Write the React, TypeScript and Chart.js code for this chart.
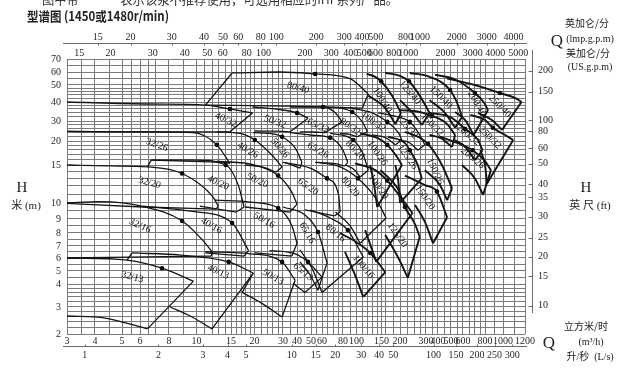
import React, { useEffect, useRef } from 'react';
import { Chart, Scale, registerables } from 'chart.js';

type Pt = [number, number];
// [model, max-impeller curve (Q m³/h, H m), min-impeller curve, index of duty dot, label Q, label H, label angle]
type Tile = [string, Pt[], Pt[], number, number, number, number];

// ---- axis calibration of the printed sheet (value, fraction along axis) ----
const qAnchors: Pt[] = [[3, 0], [4, 0.0611], [5, 0.1201], [6, 0.1594], [8, 0.2227], [10, 0.2828], [15, 0.3581], [20, 0.4094], [30, 0.4716], [40, 0.5022], [50, 0.5328], [60, 0.5568], [80, 0.6026], [100, 0.6321], [150, 0.6867], [200, 0.7271], [300, 0.7838], [400, 0.81], [500, 0.8384], [600, 0.8646], [800, 0.9127], [1000, 0.952], [1200, 1]];
const hAnchors: Pt[] = [[2, 0], [3, 0.0982], [4, 0.1818], [5, 0.2291], [6, 0.2764], [7, 0.32], [8, 0.3673], [9, 0.4182], [10, 0.4764], [15, 0.6145], [20, 0.7018], [30, 0.7745], [40, 0.8436], [50, 0.9055], [60, 0.9527], [70, 1]];

// ---- ticks ----
const qGrid = [3, 3.5, 4, 4.5, 5, 5.5, 6, 6.5, 7, 8, 9, 10, 11, 12, 13, 14, 15, 16, 17, 18, 19, 20, 22, 24, 26, 28, 30, 35, 40, 45, 50, 55, 60, 65, 70, 75, 80, 90, 100, 110, 120, 130, 140, 150, 160, 180, 200, 225, 250, 275, 300, 350, 400, 450, 500, 550, 600, 650, 700, 750, 800, 900, 1000, 1100, 1200];
const qTicks = [3, 4, 5, 6, 8, 10, 15, 20, 30, 40, 50, 60, 80, 100, 150, 200, 300, 400, 500, 600, 800, 1000, 1200];
const lsTicks = [1, 2, 3, 4, 5, 10, 15, 20, 30, 40, 50, 100, 150, 200, 250, 300];
const usTicks = [15, 20, 30, 40, 50, 60, 80, 100, 200, 300, 400, 500, 600, 800, 1000, 2000, 3000, 4000, 5000];
const impTicks = [15, 20, 30, 40, 50, 60, 80, 100, 200, 300, 400, 500, 800, 1000, 2000, 3000, 4000];
const hGrid = [2, 2.2, 2.4, 2.6, 2.8, 3, 3.2, 3.4, 3.6, 3.8, 4, 4.5, 5, 5.5, 6, 6.5, 7, 7.5, 8, 8.5, 9, 9.5, 10, 11, 12, 13, 14, 15, 16, 17, 18, 19, 20, 22, 24, 26, 28, 30, 32, 34, 36, 38, 40, 42, 44, 46, 48, 50, 55, 60, 65, 70];
const hTicks = [2, 3, 4, 5, 6, 7, 8, 9, 10, 15, 20, 30, 40, 50, 60, 70];
const ftTicks = [200, 150, 100, 80, 60, 50, 40, 35, 30, 25, 20, 15, 10];

// ---- pump tiles ----
const row13: Tile[] = [
  ['32/13', [[3, 6], [5.26, 5.83], [7.47, 5.2], [9.75, 4.2]], [[3, 2.62], [4.35, 2.54], [6.46, 2.16]], 2, 5.55, 4.5, 15],
  ['40/13', [[5.53, 6.4], [8.8, 6.23], [14.6, 5.68], [19.7, 4.83]], [[8.07, 3.0], [9.5, 2.62], [12, 2.16]], 2, 12.9, 4.92, 25],
  ['50/13', [[11.1, 6.5], [19, 6.33], [29.6, 5.68], [38.5, 4.27]], [[17.2, 3.6], [22, 3.16], [29.6, 2.58]], 2, 26, 4.5, 30],
  ['65/13', [[24.8, 6.6], [38.5, 6.33], [47.7, 5.68], [60, 4.5]], [[36.9, 4.07], [41.3, 3.8], [45.4, 3.6]], 2, 44, 4.92, 40],
];
const row16: Tile[] = [
  ['32/16', [[3, 10], [4.17, 10.15], [6.18, 9.78], [8.9, 8.85], [10.8, 7.4], [12, 6.5]], [[3, 6], [5.42, 6.07], [11.9, 6.15]], 3, 6, 8.5, 25],
  ['40/16', [[6.18, 9.8], [9.5, 9.48], [15.2, 8.7], [18.6, 6.6]], [[11.1, 6.4], [17.6, 6.15]], 2, 11.9, 8.5, 30],
  ['50/16', [[12.4, 10.3], [19, 10.1], [28, 9.68], [36, 8.5], [40, 7.2]], [[20.1, 6.4], [36, 6.15]], 2, 22.9, 8.9, 30],
  ['65/16', [[30, 9.74], [45.4, 9.24], [56.1, 8.07], [64.3, 5.6]], [[41.9, 5.68], [49.3, 4.67], [56.1, 3.7]], 2, 47, 8, 60],
  ['80/16', [[49.3, 9.55], [67.1, 9.06], [86.6, 8.2], [111.7, 6.07]], [[41.9, 6.67], [50.8, 5.2], [60, 3.6]], 2, 72.2, 8, 40],
  ['100/16', [[76.9, 8], [102.5, 7.2], [125, 6.4], [159, 4.9]], [[82.7, 6.5], [97.5, 4.67], [111.7, 3.4]], 2, 111.7, 5.3, 50],
];
const row20: Tile[] = [
  ['32/20', [[3, 15], [4.55, 14.85], [6.46, 14.7], [8.9, 13.7], [12.1, 10.7], [12.9, 9.8]], [[3, 9.97], [6.18, 9.74], [12.6, 9.61]], 3, 6.6, 12.4, 15],
  ['40/20', [[6.7, 15.9], [9.9, 15.9], [14.1, 15], [16.4, 12.1], [17.6, 9.74]], [[10.4, 9.8], [16, 9.42]], 2, 12.9, 12.4, 25],
  ['50/20', [[12.7, 15.7], [20.1, 15], [28, 13.4], [36, 11.2], [40, 9.93]], [[17.8, 9.74], [34.6, 9.42]], 2, 20.8, 12.7, 25],
  ['65/20', [[30, 15.5], [49.3, 14.5], [64.3, 13], [75.3, 10.9], [76.9, 9.42]], [[45.4, 9.55], [71, 9.18]], 2, 47.7, 11.9, 35],
  ['80/20', [[56.1, 15.5], [76.9, 14.7], [102.5, 13], [135.5, 10.6], [161, 9.06]], [[72.2, 9.42], [90, 8.5], [106, 7.2]], 2, 90, 11.9, 50],
  ['100/20', [[97.5, 15.3], [135.5, 14.2], [164, 12.7], [209.5, 10.3], [243, 9.36]], [[115, 8.2], [125, 7.1], [137.8, 5.68]], 2, 142.3, 11.9, 55],
  ['125/20', [[147.4, 14.2], [195, 11.5], [216, 9.74], [253, 8.6], [272, 7.7]], [[159, 7.83], [195, 6], [226, 4.45]], 2, 192, 7.83, 55],
  ['150/20', [[216, 13.4], [295, 12.1], [390, 11.3], [468, 9.1]], [[253, 9.87], [295, 8.78], [355, 7.2]], 2, 295, 10.6, 55],
];
const row26: Tile[] = [
  ['32/26', [[3, 24.3], [6.6, 24.1], [9.75, 23.7], [12.7, 19.1], [14.8, 15.3]], [[6.7, 15.9], [14.2, 15.5]], 3, 7.1, 19.1, 20],
  ['40/26', [[12.7, 24.1], [16.8, 23.3], [20.1, 20.4], [25.6, 16.9], [29.6, 14.7]], [[17.8, 15], [23, 14.6], [27.1, 13.9]], 2, 18.4, 17.9, 30],
  ['50/26', [[19.7, 23.7], [24.8, 23.3], [29.6, 21.8], [38.5, 18.4], [43.3, 15.5]], [[31.3, 15.5], [41.9, 14.5]], 2, 28.7, 18.4, 50],
  ['65/26', [[34.6, 23.7], [49.3, 22.6], [67.1, 21.4], [80, 17.9], [86.6, 15.5]], [[53.5, 15.5], [70, 15.3], [82.7, 14.85]], 2, 56.1, 17.9, 30],
  ['80/26', [[67.1, 23.3], [82.7, 22.2], [95, 20.4], [110, 17.5], [121, 14.2]], [[82.7, 15], [96, 14.3], [106, 13.2]], 2, 97.5, 17.9, 45],
  ['100/26', [[106, 23.3], [142.3, 21.1], [164, 19.1], [189, 16.7], [206, 15]], [[125, 15], [133, 12.1], [140, 9.74]], 2, 140, 17.3, 55],
  ['125/26', [[166, 21.8], [216, 19.5], [233, 17.9], [264, 15], [281, 13]], [[186, 15], [195, 12.5], [200, 10]], 2, 225, 16.5, 55],
  ['150/26', [[216, 24.1], [272, 21.4], [315, 19.3], [428, 15], [508, 11.7]], [[295, 14.2], [414, 12.1], [468, 10.3]], 2, 373, 14, 65],
  ['200/26', [[414, 21.8], [556, 19.5], [680, 17.9], [792, 15.9], [861, 14.2]], [[591, 15], [701, 13], [780, 10.9]], 2, 680, 16.3, 40],
];
const row32: Tile[] = [
  ['40/32', [[3, 40], [6.6, 38.8], [11.1, 38.2], [14.8, 36], [19.5, 33.9]], [[3, 24.3], [6.6, 24.1], [14.8, 24.1]], 3, 14.1, 30.5, 25],
  ['50/32', [[19.5, 37.1], [26.7, 36], [40, 33.9], [47.7, 31.3]], [[20.1, 24.5], [28, 24.4], [34.6, 24.1]], 2, 26.7, 29.5, 20],
  ['65/32', [[34.6, 37.1], [49.3, 37.1], [60.8, 37.1], [72.2, 33.9], [79, 29.5]], [[41.9, 24.1], [52, 24], [62.5, 23.7]], 2, 56.1, 27.1, 25],
  ['80/32', [[58, 37.1], [76.9, 36.5], [93.3, 34.4], [110, 29.5], [119.3, 24.1]], [[76.9, 23.3], [90, 22.8], [101, 21.8]], 2, 90, 26.7, 35],
  ['100/32', [[90, 36.5], [129, 33.9], [164, 29.5], [195, 23.7], [206, 20.4]], [[129, 22.6], [160, 21.4], [186, 19.1]], 2, 131, 29.5, 35],
  ['125/32', [[142.3, 33.9], [195, 31.9], [233, 29.5], [272, 22.6], [295, 19.1]], [[195, 20.4], [232, 19.6], [264, 17.9]], 2, 223, 26.7, 50],
  ['150/32', [[200, 35.4], [272, 34.4], [347, 32.4], [468, 28.2], [532, 22.6]], [[327, 22.6], [420, 21.2], [508, 18.6]], 2, 347, 27.7, 45],
  ['200/32', [[327, 33.9], [492, 31.9], [616, 25.6], [730, 20.4], [774, 17.9]], [[532, 20.4], [620, 18.6], [701, 15.9]], 2, 643, 22.6, 40],
  ['250/32', [[661, 32.9], [800, 30.5], [882, 26.2], [1017, 22.6], [1088, 20.4]], [[752, 17.9], [800, 15], [820, 12.3]], 2, 850, 21.4, 45],
];
const row40: Tile[] = [
  ['80/40', [[15.2, 59.2], [28.7, 60], [53.5, 58.4], [90, 54.7], [121, 44.4]], [[11.1, 38.2], [34.6, 37.6], [110, 36.5]], 2, 40.7, 48.1, 15],
  ['100/40', [[117.7, 58.4], [135.5, 56.1], [149, 52.7], [176.5, 43.5], [203, 33.9]], [[121, 43.5], [159, 36.5], [186, 28.2]], 2, 152, 41, 58],
  ['125/40', [[159, 59.2], [200, 56.9], [230, 52.7], [272, 43.5], [327, 33.9]], [[200, 41], [240, 34.4], [281, 27.7]], 2, 233, 45.3, 50],
  ['150/40', [[233, 59.2], [327, 56.1], [492, 46.8], [556, 38.2], [591, 31.9]], [[327, 41], [450, 33.9], [532, 26.2]], 2, 421, 42.6, 45],
  ['200/40', [[373, 57.7], [532, 54], [701, 45], [792, 39.4], [830, 35.4]], [[532, 34.4], [616, 30.5], [690, 22.6]], 2, 720, 39, 60],
  ['250/40', [[468, 54.7], [701, 50], [962, 45], [1104, 42.2], [1166, 40]], [[730, 33.9], [871, 30.5], [987, 25]], 2, 962, 37.6, 45],
];
const leftEdges: Pt[][] = [
  [[5.26, 5.83], [5.53, 6.4]],
  [[17.2, 3.6], [19.7, 4.83]],
  [[6.46, 14.7], [6.7, 15.9]],
  [[11.1, 38.2], [15.2, 59.2]],
];
// models drawn with the heavier (double) outline on the sheet
const heavyModels = ['100/40', '125/40', '150/40', '200/40', '250/40', '150/32', '200/32', '250/32', '100/26', '125/26', '150/26', '200/26', '100/20', '125/20', '150/20', '100/16'];

const tiles: Tile[] = [...row13, ...row16, ...row20, ...row26, ...row32, ...row40];

// ---- custom scale following the printed (hand-calibrated) log axes ----
class AnchorScale extends (Scale as any) {
  static id = 'anchor';
  static defaults = {};
  _frac(v: number): number {
    const o: any = this.options;
    const a: Pt[] = o.anchors;
    const b = v * o.k;
    let i = 0;
    while (i < a.length - 2 && b > a[i + 1][0]) i++;
    const [v0, f0] = a[i];
    const [v1, f1] = a[i + 1];
    return f0 + (Math.log(b / v0) / Math.log(v1 / v0)) * (f1 - f0);
  }
  determineDataLimits() {
    const o: any = this.options;
    const a: Pt[] = o.anchors;
    this.min = a[0][0] / o.k;
    this.max = a[a.length - 1][0] / o.k;
  }
  buildTicks() {
    const o: any = this.options;
    return o.tickValues.map((value: number) => ({ value }));
  }
  getLabelForValue(v: number) {
    return String(v);
  }
  getPixelForValue(v: number) {
    return this.getPixelForDecimal(this._frac(v));
  }
  getPixelForTick(i: number) {
    const t = this.ticks[i];
    return t ? this.getPixelForValue(t.value) : null;
  }
  getValueForPixel(p: number) {
    const f = this.getDecimalForPixel(p);
    const o: any = this.options;
    const a: Pt[] = o.anchors;
    let i = 0;
    while (i < a.length - 2 && f > a[i + 1][1]) i++;
    const [v0, f0] = a[i];
    const [v1, f1] = a[i + 1];
    return (v0 * Math.pow(v1 / v0, (f - f0) / (f1 - f0))) / o.k;
  }
}

Chart.register(...registerables, AnchorScale as any);

const SERIF = '"Liberation Serif", "Times New Roman", serif';
const CJK = '"Noto Sans CJK SC"';
const tickFont = { family: SERIF, size: 10 };
const labelOnly = (labeled: number[]) => (v: number) => (labeled.includes(v) ? String(v) : '');

const toXY = (p: Pt) => ({ x: p[0], y: p[1] });
const lineDs = (pts: Pt[], smooth: boolean, width: number) => ({
  data: pts.map(toXY),
  showLine: true,
  borderColor: '#141414',
  borderWidth: width,
  pointRadius: 0,
  tension: smooth ? 0.4 : 0,
  cubicInterpolationMode: smooth ? 'monotone' : 'default',
  fill: false,
});

const overlay = {
  id: 'overlay',
  afterDatasetsDraw(chart: any) {
    const ctx = chart.ctx;
    const xs = chart.scales.x;
    const ys = chart.scales.y;
    const area = chart.chartArea;
    ctx.save();
    ctx.fillStyle = '#111';
    ctx.font = `10px ${SERIF}`;
    ctx.textAlign = 'center';
    ctx.textBaseline = 'middle';
    for (const t of tiles) {
      ctx.save();
      ctx.translate(xs.getPixelForValue(t[4]), ys.getPixelForValue(t[5]));
      ctx.rotate((t[6] * Math.PI) / 180);
      ctx.fillText(t[0], 0, 0);
      ctx.restore();
    }
    ctx.strokeStyle = '#6a6a6a';
    ctx.lineWidth = 1;
    ctx.beginPath();
    // separate right-hand feet scale line
    const ft = chart.scales.yFt;
    const xr = Math.round(area.right + 7) + 0.5;
    ctx.moveTo(xr, 50);
    ctx.lineTo(xr, 313);
    for (const v of ftTicks) {
      const y = Math.round(ft.getPixelForValue(v)) + 0.5;
      ctx.moveTo(xr - 4, y);
      ctx.lineTo(xr, y);
    }
    // imperial gallon scale line (top) and litres/second scale line (bottom)
    const imp = chart.scales.xImp;
    const yi = Math.round(imp.bottom) + 0.5;
    ctx.moveTo(area.left - 4, yi);
    ctx.lineTo(area.right + 2, yi);
    for (const v of impTicks) {
      const x = Math.round(imp.getPixelForValue(v)) + 0.5;
      ctx.moveTo(x, yi);
      ctx.lineTo(x, yi + 2);
    }
    const ls = chart.scales.xLs;
    const yl = Math.round(ls.top) + 0.5;
    ctx.moveTo(area.left - 4, yl);
    ctx.lineTo(area.right + 2, yl);
    for (const v of lsTicks) {
      const x = Math.round(ls.getPixelForValue(v)) + 0.5;
      ctx.moveTo(x, yl - 2);
      ctx.lineTo(x, yl);
    }
    ctx.stroke();
    ctx.restore();
  },
  afterDraw(chart: any) {
    const ctx = chart.ctx;
    ctx.save();
    ctx.fillStyle = '#333';
    ctx.textAlign = 'left';
    ctx.textBaseline = 'alphabetic';
    ctx.font = `13px ${CJK}`;
    ctx.fillText('图中带 “ * ” 表示该泵不推荐使用，可选用相应的IHF系列产品。', 42, 4, 356);
    ctx.fillStyle = '#222';
    ctx.textBaseline = 'middle';
    ctx.font = `bold 13px ${CJK}`;
    ctx.fillText('型谱图 (1450或1480r/min)', 27, 16, 142);
    ctx.textAlign = 'center';
    ctx.font = `15px ${SERIF}`;
    ctx.fillText('H', 22, 188);
    ctx.fillText('H', 586, 188);
    ctx.font = `11px ${SERIF}, ${CJK}`;
    ctx.fillText('米 (m)', 26, 206);
    ctx.fillText('英 尺 (ft)', 590, 206);
    ctx.font = `17px ${SERIF}`;
    ctx.fillText('Q', 557, 42);
    ctx.fillText('Q', 549, 344);
    ctx.font = `10px ${CJK}`;
    ctx.fillText('英加仑/分', 587, 23);
    ctx.fillText('美加仑/分', 588, 53);
    ctx.fillText('立方米/时', 586, 326);
    ctx.font = `10px ${SERIF}`;
    ctx.fillText('(lmp.g.p.m)', 590, 39);
    ctx.fillText('(US.g.p.m)', 590, 67);
    ctx.fillText('(m³/h)', 591, 342);
    ctx.font = `10px ${SERIF}, ${CJK}`;
    ctx.fillText('升/秒  (L/s)', 590, 357);
    ctx.restore();
  },
};

const axisBase = {
  type: 'anchor',
  ticks: { autoSkip: false, maxRotation: 0, minRotation: 0, font: tickFont, color: '#262626' },
};
const GRID = '#7a7a7a';

export default function App() {
  const ref = useRef<HTMLCanvasElement | null>(null);
  useEffect(() => {
    if (!ref.current) return;
    const datasets: any[] = [];
    for (const t of tiles) {
      const up = t[1];
      const lo = t[2];
      const w = heavyModels.includes(t[0]) ? 1.9 : 1.3;
      datasets.push(lineDs(up, true, w));
      datasets.push(lineDs(lo, lo.length > 2, w));
      datasets.push(lineDs([up[up.length - 1], lo[lo.length - 1]], false, w));
    }
    for (const e of leftEdges) datasets.push(lineDs(e, false, 1.3));
    datasets.push({
      data: tiles.map((t) => toXY(t[1][t[3]])),
      showLine: false,
      pointRadius: 2.3,
      pointBackgroundColor: '#000',
      pointBorderWidth: 0,
    });
    const chart = new Chart(ref.current, {
      type: 'scatter',
      data: { datasets },
      plugins: [overlay],
      options: {
        animation: false,
        responsive: false,
        devicePixelRatio: 1,
        events: [],
        layout: { padding: { top: 28, bottom: 12, left: 0, right: 0 } },
        plugins: { legend: { display: false }, tooltip: { enabled: false } },
        scales: {
          x: {
            ...axisBase, position: 'bottom', weight: 0, anchors: qAnchors, k: 1, tickValues: qGrid,
            grid: { color: GRID, lineWidth: 1, drawTicks: false },
            border: { display: false },
            ticks: { ...axisBase.ticks, padding: 1, callback: labelOnly(qTicks) },
            afterFit: (s: any) => { s.height = 12; },
          },
          xLs: {
            ...axisBase, position: 'bottom', weight: 1, anchors: qAnchors, k: 3.6, tickValues: lsTicks,
            grid: { display: false, drawTicks: false },
            border: { display: false },
            ticks: { ...axisBase.ticks, padding: 3 },
            afterFit: (s: any) => { s.height = 18; },
          },
          xUS: {
            ...axisBase, position: 'top', weight: 0, anchors: qAnchors, k: 0.22712, tickValues: usTicks,
            grid: { display: false, drawTicks: false },
            border: { display: false },
            ticks: { ...axisBase.ticks, padding: 0 },
            afterFit: (s: any) => { s.height = 16; },
          },
          xImp: {
            ...axisBase, position: 'top', weight: 1, anchors: qAnchors, k: 0.27277, tickValues: impTicks,
            grid: { display: false, drawTicks: false },
            border: { display: false },
            ticks: { ...axisBase.ticks, padding: 0 },
            afterFit: (s: any) => { s.height = 15; },
          },
          y: {
            ...axisBase, position: 'left', anchors: hAnchors, k: 1, tickValues: hGrid,
            grid: { color: GRID, lineWidth: 1, drawTicks: false },
            border: { display: false },
            ticks: { ...axisBase.ticks, padding: 6, callback: labelOnly(hTicks) },
            afterFit: (s: any) => { s.width = 67; },
          },
          yFt: {
            ...axisBase, position: 'right', anchors: hAnchors, k: 0.3048, tickValues: ftTicks,
            grid: { display: false, drawTicks: false },
            border: { display: false },
            ticks: { ...axisBase.ticks, padding: 13 },
            afterFit: (s: any) => { s.width = 115; },
          },
        },
      } as any,
    });
    return () => chart.destroy();
  }, []);
  return (
    <div style={{ position: 'fixed', left: 0, top: 0, width: 640, height: 376, background: '#fff' }}>
      <canvas ref={ref} width={640} height={376} style={{ width: 640, height: 376, display: 'block' }} />
    </div>
  );
}
